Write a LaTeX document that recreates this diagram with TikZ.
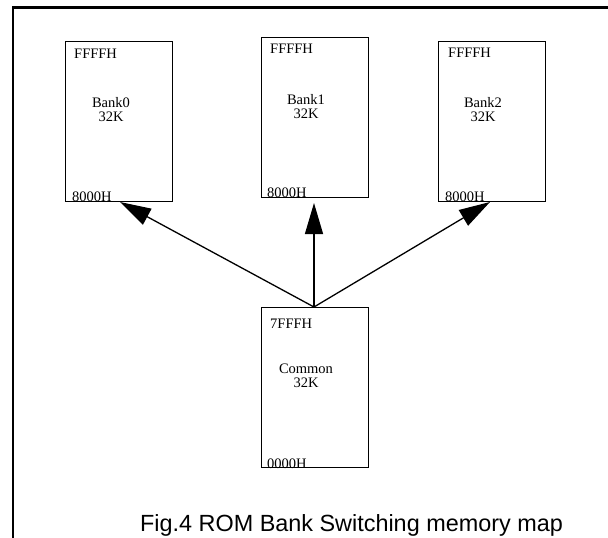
\documentclass[tikz,border=0pt]{standalone}
\usepackage{fontspec}
\setmainfont{Liberation Serif}
\newfontfamily\capfont{Liberation Sans}
\usetikzlibrary{arrows.meta}
\begin{document}
\begin{tikzpicture}[x=1pt,y=-1pt,
  membox/.style={draw,line width=1.3pt,minimum width=107pt,minimum height=160pt,inner sep=0pt,anchor=north west},
  addr/.style={inner sep=0pt,anchor=base west,font=\fontsize{14.5}{14}\selectfont},
  lbl/.style={inner sep=0pt,anchor=north,align=center,font=\fontsize{14.5}{14}\selectfont},
  conn/.style={line width=1.3pt,-{Triangle[length=31pt,width=18pt]}}]
\useasboundingbox (0,0) rectangle (608,538);
% frame
\draw[line width=2.4pt] (13,538) -- (13,7.5) -- (610,7.5);
% boxes
\node[membox] (b0) at (65,41) {};
\node[membox] (b1) at (261,37) {};
\node[membox] (b2) at (438,41) {};
\node[membox] (cm) at (261,307) {};
% texts
\node[addr] (b0t) at (74,58) {FFFFH};
\node[lbl] (b0l) at (111,97) {Bank0\\32K};
\node[addr] (b0b) at (72,201) {8000H};
\node[addr] (b1t) at (270,53) {FFFFH};
\node[lbl] (b1l) at (306,94) {Bank1\\32K};
\node[addr] (b1b) at (267,197) {8000H};
\node[addr] (b2t) at (448,57) {FFFFH};
\node[lbl] (b2l) at (483,97) {Bank2\\32K};
\node[addr] (b2b) at (445,201) {8000H};
\node[addr] (cmt) at (270,328) {7FFFH};
\node[lbl] (cml) at (306,364) {Common\\32K};
\node[addr] (cmb) at (267,468) {0000H};
% connector end points
\coordinate (src) at (314,307);
\coordinate (t0) at (120,202);
\coordinate (t1) at (314,203);
\coordinate (t2) at (490,202);
\draw[conn] (src) -- (t0);
\draw[conn] (src) -- (t1);
\draw[conn] (src) -- (t2);
% caption
\node[inner sep=0pt,anchor=base west,font=\capfont\fontsize{23.4}{26}\selectfont] (cap) at (140,531) {Fig.4 ROM Bank Switching memory map};
\end{tikzpicture}
\end{document}
